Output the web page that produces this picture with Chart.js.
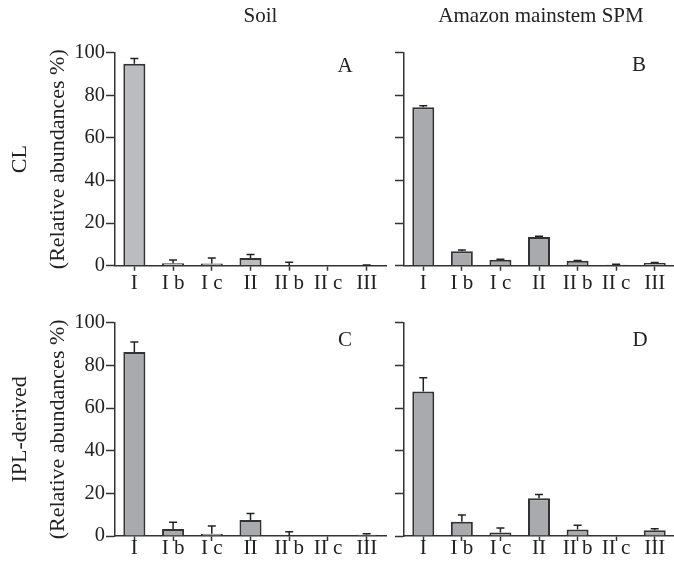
<!DOCTYPE html>
<html>
<head>
<meta charset="utf-8">
<script src="https://cdn.jsdelivr.net/npm/chart.js@4.4.1/dist/chart.umd.min.js"></script>
<style>
  html, body { margin: 0; padding: 0; background: #fff; }
  #wrap { position: relative; width: 674px; height: 562px; overflow: hidden; }
  canvas { position: absolute; }
</style>
</head>
<body>
<div id="wrap">
  <canvas id="chartA" width="390" height="300" style="left:0;top:0"></canvas>
  <canvas id="chartB" width="284" height="300" style="left:390px;top:0"></canvas>
  <canvas id="chartC" width="390" height="262" style="left:0;top:300px"></canvas>
  <canvas id="chartD" width="284" height="262" style="left:390px;top:300px"></canvas>
</div>
<script>
// categorias (tipos de GDGT)
const categorias = ["I", "I b", "I c", "II", "II b", "II c", "III"];
const yTicks = [0, 20, 40, 60, 80, 100];

// A - Soil, CL
const soilCL = [94.8, 1.1, 1.0, 3.6, 0, 0, 0];
const soilCLErr = [2.5, 1.6, 2.6, 1.7, 1.6, 0, 0.3];
// B - Amazon mainstem SPM, CL
const spmCL = [74.4, 6.8, 2.8, 13.5, 2.3, 0.5, 1.3];
const spmCLErr = [0.7, 0.6, 0.2, 0.3, 0.2, 0.2, 0.2];
// C - Soil, IPL-derived
const soilIPL = [86.3, 3.3, 1.1, 7.5, 0, 0, 0.6];
const soilIPLErr = [4.7, 3.1, 3.6, 3.0, 2.0, 0, 0.5];
// D - Amazon mainstem SPM, IPL-derived
const spmIPL = [67.7, 6.7, 1.6, 17.7, 3.1, 0, 2.7];
const spmIPLErr = [6.5, 3.1, 2.1, 1.8, 1.9, 0, 0.7];

const FONT = "'Liberation Serif', 'Times New Roman', serif";
const INK = "#222";

// Barras de error (solo hacia arriba)
const errorBars = {
    id: "errorBars",
    afterDatasetsDraw(chart, args, opts) {
        const { ctx, scales: { y } } = chart;
        const meta = chart.getDatasetMeta(0);
        const values = chart.data.datasets[0].data;
        ctx.save();
        ctx.strokeStyle = INK;
        ctx.lineWidth = 1.5;
        meta.data.forEach((bar, i) => {
            const err = opts.values[i];
            if (!err) return;
            const top = y.getPixelForValue(values[i] + err);
            ctx.beginPath();
            ctx.moveTo(bar.x, bar.y);
            ctx.lineTo(bar.x, top);
            ctx.moveTo(bar.x - 4, top);
            ctx.lineTo(bar.x + 4, top);
            ctx.stroke();
        });
        ctx.restore();
    }
};

// Letra del panel (A, B, C, D) y encabezado de columna
const panelText = {
    id: "panelText",
    afterDraw(chart, args, opts) {
        const { ctx, chartArea } = chart;
        ctx.save();
        ctx.fillStyle = INK;
        ctx.textAlign = "center";
        ctx.textBaseline = "middle";
        ctx.font = "21px " + FONT;
        ctx.fillText(opts.letra, chartArea.right + opts.dx, chartArea.top + opts.dy);
        if (opts.encabezado) {
            const cx = (chartArea.left + chartArea.right) / 2 + opts.hdx;
            ctx.fillText(opts.encabezado, cx, 16);
        }
        ctx.restore();
    }
};

function crearPanel(id, p) {
    const ctx = document.getElementById(id).getContext("2d");
    return new Chart(ctx, {
        type: "bar",
        data: {
            labels: categorias,
            datasets: [{
                data: p.valores,
                backgroundColor: p.color,
                borderColor: "#333",
                borderWidth: 2,
                barPercentage: 0.57,
                categoryPercentage: 1
            }]
        },
        options: {
            responsive: false,
            animation: false,
            layout: { padding: { top: p.padTop, right: p.padRight, left: 0, bottom: 0 } },
            plugins: {
                legend: { display: false },
                tooltip: { enabled: false },
                errorBars: { values: p.errores },
                panelText: p.texto
            },
            scales: {
                x: {
                    offset: true,
                    border: { color: "#333", width: 1.5 },
                    grid: { offset: false, drawOnChartArea: false, tickLength: 5, tickColor: "#333", tickWidth: 1.5 },
                    ticks: {
                        color: INK, font: { family: FONT, size: 21 },
                        maxRotation: 0, minRotation: 0, autoSkip: false,
                        padding: p.labelPad
                    },
                    afterFit(scale) { scale.height = p.xAlto; }
                },
                y: {
                    min: 0,
                    max: 100,
                    afterBuildTicks(scale) { scale.ticks = yTicks.map(v => ({ value: v })); },
                    border: { color: "#333", width: 1.5 },
                    grid: { drawOnChartArea: false, tickLength: 9, tickColor: "#333", tickWidth: 1.5 },
                    ticks: {
                        display: p.yEtiquetas,
                        color: INK, font: { family: FONT, size: 20.5 },
                        padding: 1
                    },
                    title: {
                        display: !!p.yTitulo,
                        text: p.yTitulo,
                        color: INK,
                        font: { family: FONT, size: 22, lineHeight: 1.727 },
                        padding: { top: 1, bottom: 0 }
                    },
                    afterFit(scale) { scale.width = p.yAncho; }
                }
            }
        },
        plugins: [errorBars, panelText]
    });
}

crearPanel("chartA", {
    valores: soilCL, errores: soilCLErr, color: "#bbbcc0",
    yTitulo: ["CL", "(Relative abundances %)"], yEtiquetas: true,
    yAncho: 115, xAlto: 34.3, padTop: 52.7, padRight: 4, labelPad: 0,
    texto: { letra: "A", dx: -41, dy: 14, encabezado: "Soil", hdx: 10 }
});
crearPanel("chartB", {
    valores: spmCL, errores: spmCLErr, color: "#a9aaae",
    yTitulo: null, yEtiquetas: false,
    yAncho: 14, xAlto: 34.3, padTop: 52.7, padRight: 0, labelPad: 0,
    texto: { letra: "B", dx: -35, dy: 13, encabezado: "Amazon mainstem SPM", hdx: 2 }
});
crearPanel("chartC", {
    valores: soilIPL, errores: soilIPLErr, color: "#a9aaae",
    yTitulo: ["IPL-derived", "(Relative abundances %)"], yEtiquetas: true,
    yAncho: 115, xAlto: 26, padTop: 22.7, padRight: 4, labelPad: -5,
    texto: { letra: "C", dx: -41, dy: 18 }
});
crearPanel("chartD", {
    valores: spmIPL, errores: spmIPLErr, color: "#a9aaae",
    yTitulo: null, yEtiquetas: false,
    yAncho: 14, xAlto: 26, padTop: 22.7, padRight: 0, labelPad: -5,
    texto: { letra: "D", dx: -34, dy: 18 }
});
</script>
</body>
</html>
